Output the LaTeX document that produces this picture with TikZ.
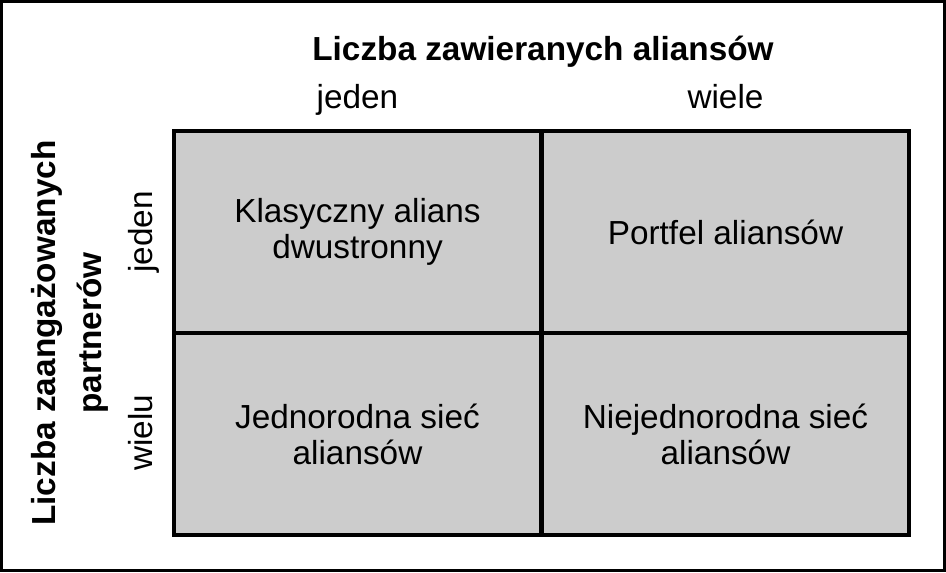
\documentclass[tikz,border=0pt]{standalone}
\usepackage{fontspec}
\setmainfont{Liberation Sans}
\usetikzlibrary{positioning}

\definecolor{cellgray}{HTML}{CCCCCC}

\tikzset{
    cell/.style={draw, fill=cellgray, line width=3pt, minimum width=275.25pt, minimum height=151.5pt, align=center, inner sep=0pt, font=\fontsize{25}{27}\selectfont},
    lbl/.style={font=\fontsize{25}{27}\selectfont, inner sep=0pt},
    head/.style={font=\bfseries\fontsize{25}{34}\selectfont, inner sep=0pt, align=center}
}

\begin{document}
\begin{tikzpicture}[x=0.75pt, y=-0.75pt]

    \useasboundingbox (0,0) rectangle (946,572);
    \draw[line width=2.25pt] (1.5,1.5) rectangle (944.5,570.5); % ramka

    % macierz
    \node[cell] (kl) at (357.5,232) {Klasyczny alians\\dwustronny};
    \node[cell] (pf) at (725.5,232) {Portfel aliansów};
    \node[cell] (js) at (357.5,434) {Jednorodna sieć\\aliansów};
    \node[cell] (ns) at (725.5,434) {Niejednorodna sieć\\aliansów};

    % opisy osi
    \node[head, anchor=base] (ox) at (543,60) {Liczba zawieranych aliansów};
    \node[lbl, anchor=base] (ox1) at (kl.center |- 0,108) {jeden};
    \node[lbl, anchor=base] (ox2) at (pf.center |- 0,108) {wiele};

    \node[head, rotate=90] (oy) at (70,333) {Liczba zaangażowanych\\partnerów};
    \node[lbl, rotate=90, anchor=base] (oy1) at (152,232) {jeden};
    \node[lbl, rotate=90, anchor=base] (oy2) at (152,433) {wielu};

\end{tikzpicture}
\end{document}
